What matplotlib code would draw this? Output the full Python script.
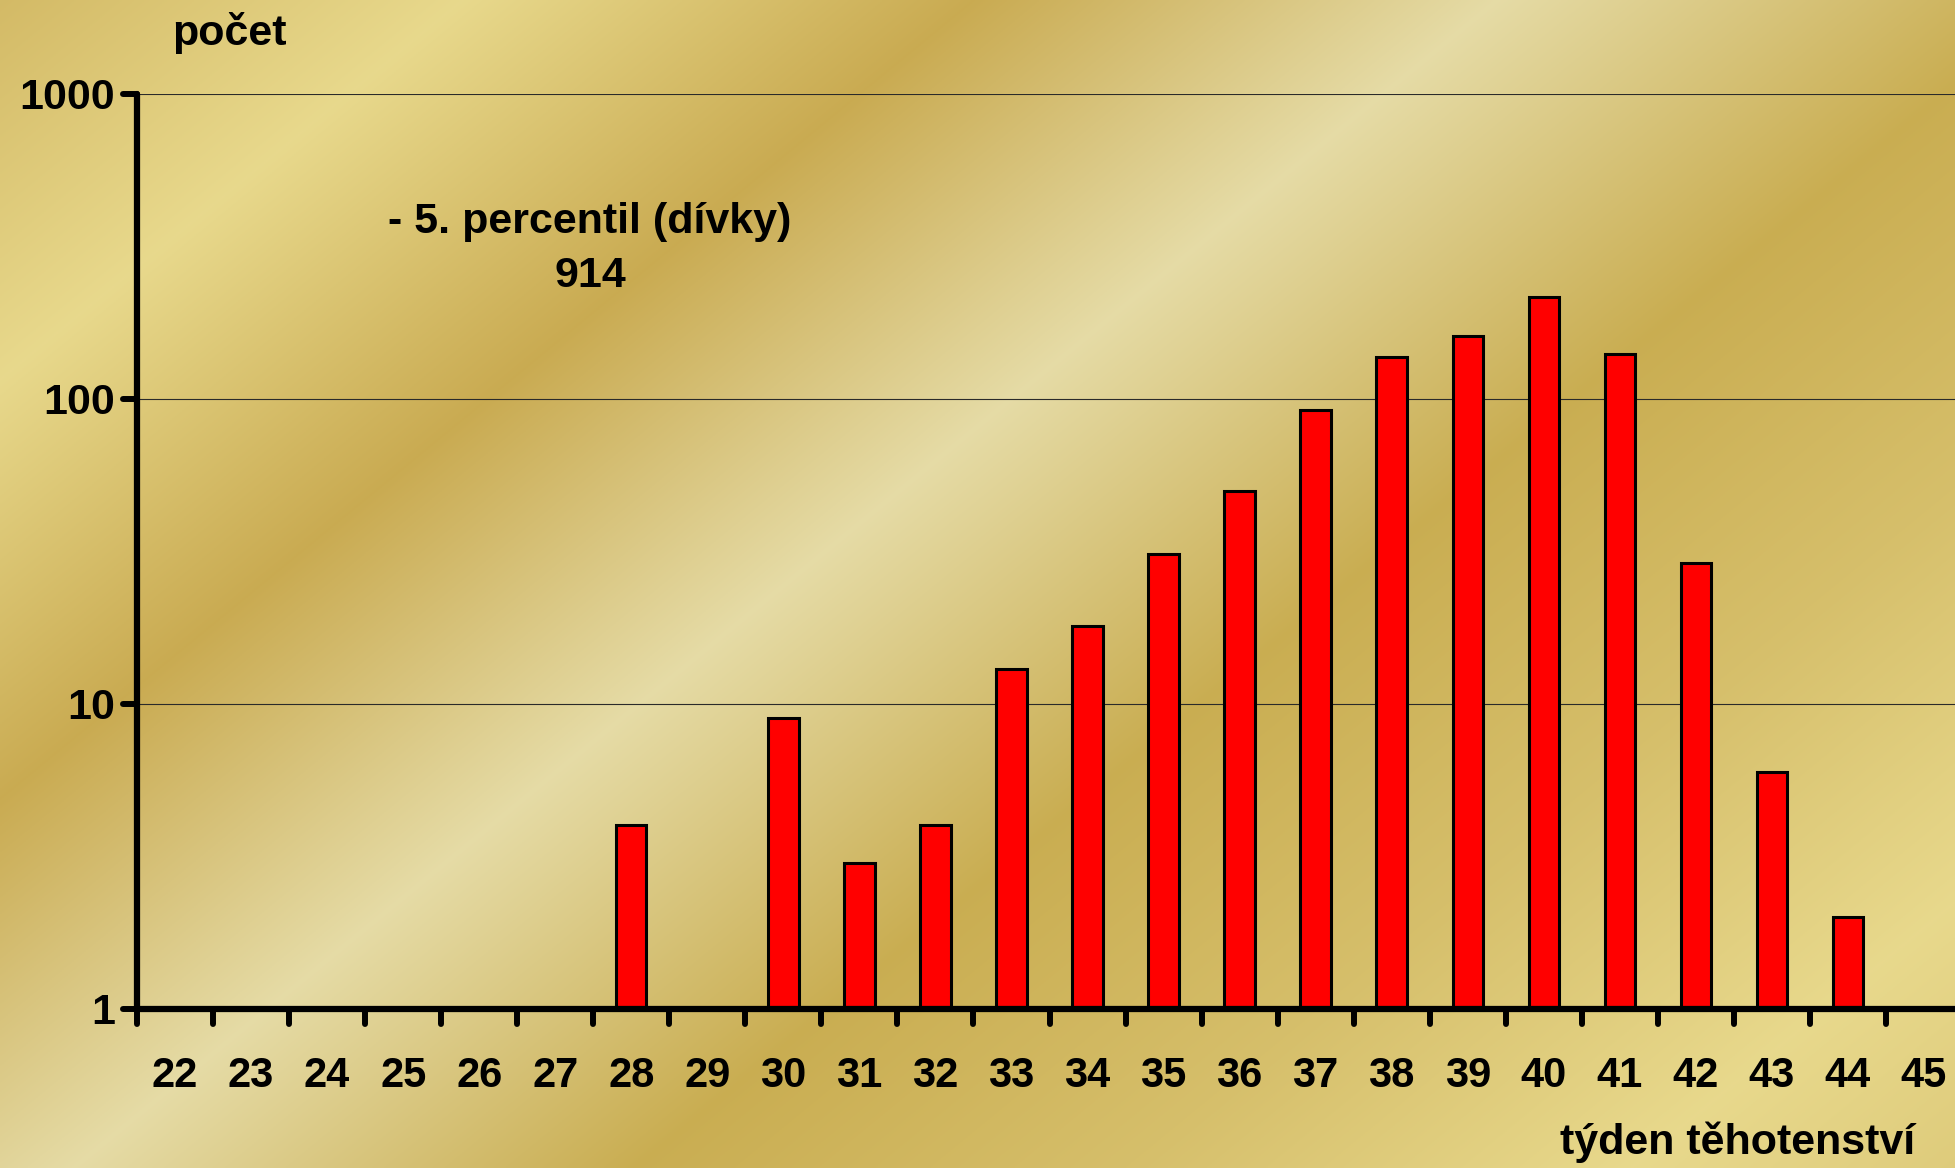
import numpy as np
import matplotlib
matplotlib.use("Agg")
import matplotlib.pyplot as plt
from matplotlib.markers import MarkerStyle, TICKDOWN, TICKLEFT

# ---- data ----
weeks = [22, 23, 24, 25, 26, 27, 28, 29, 30, 31, 32, 33,
         34, 35, 36, 37, 38, 39, 40, 41, 42, 43, 44, 45]
counts = [0, 0, 0, 0, 0, 0, 4, 0, 9, 3, 4, 13,
          18, 31, 50, 92, 137, 160, 216, 140, 29, 6, 2, 0]
ytick_vals = [1, 10, 100, 1000]
ytick_labels = ["1", "10", "100", "1000"]
ylabel_text = "počet"
xlabel_text = "týden těhotenství"
note_text = "- 5. percentil (dívky)\n914"

W, H = 1955, 1168
plt.rcParams['font.family'] = ['Liberation Sans', 'DejaVu Sans']
plt.rcParams['font.weight'] = 'bold'

fig = plt.figure(figsize=(W / 100, H / 100), dpi=100)

# ---- gold diagonal background ----
bg = fig.add_axes([0, 0, 1, 1], zorder=0)
yy, xx = np.mgrid[0:H:2, 0:W:2]
s = (xx + 1.22 * yy) / 1.2468
pts = [0, 370, 780, 1200, 1650, 2050, 2450, 2800]
cols = np.array([
    [0.83, 0.73, 0.40],
    [0.91, 0.85, 0.55],
    [0.79, 0.67, 0.32],
    [0.90, 0.86, 0.65],
    [0.79, 0.68, 0.32],
    [0.84, 0.75, 0.42],
    [0.91, 0.85, 0.55],
    [0.86, 0.78, 0.46],
])
img = np.zeros(s.shape + (3,))
for c in range(3):
    img[..., c] = np.interp(s, pts, cols[:, c])
bg.imshow(img, aspect='auto', extent=[0, 1, 0, 1], origin='upper')
bg.set_axis_off()

# ---- main axes ----
left = 137 / W
right = 1962 / W
bottom = (H - 1009) / H
top = (H - 93.5) / H
ax = fig.add_axes([left, bottom, right - left, top - bottom], zorder=1)
ax.patch.set_alpha(0)

x = np.arange(len(weeks))
vals = np.array(counts, dtype=float)
mask = vals > 0
ax.bar(x[mask], vals[mask] - 1, bottom=1, width=0.4, color='#FF0000',
       edgecolor='black', linewidth=2.2, zorder=3)

ax.set_yscale('log')
ax.set_ylim(1, 1000)
ax.set_xlim(-0.5, len(weeks) - 0.5)

ax.set_yticks(ytick_vals)
ax.set_yticklabels(ytick_labels)
ax.yaxis.set_minor_locator(matplotlib.ticker.NullLocator())
ax.tick_params(axis='y', which='major', direction='out', length=10, width=4.3,
               labelsize=31, pad=6)
for lab in ax.get_yticklabels():
    lab.set_fontweight('bold')

ax.set_xticks(np.arange(len(weeks) + 1) - 0.5)
ax.set_xticklabels([])
ax.set_xticks(x, minor=True)
ax.set_xticklabels([str(w) for w in weeks], minor=True)
ax.tick_params(axis='x', which='major', direction='out', length=11, width=4.3)
ax.tick_params(axis='x', which='minor', length=0, labelsize=30, pad=34)
for lab in ax.get_xticklabels(minor=True):
    lab.set_fontweight('bold')

ax.yaxis.grid(True, which='major', color='#2a2a2a', linewidth=0.8, zorder=1)
ax.set_axisbelow(True)

for side in ('top', 'right'):
    ax.spines[side].set_visible(False)
for side in ('left', 'bottom'):
    ax.spines[side].set_linewidth(4.5)
    ax.spines[side].set_capstyle('round')
    ax.spines[side].set_zorder(4)

# round-capped tick marks
for t in ax.xaxis.get_major_ticks():
    t.tick1line.set_marker(MarkerStyle(TICKDOWN, capstyle='round'))
for t in ax.yaxis.get_major_ticks():
    t.tick1line.set_marker(MarkerStyle(TICKLEFT, capstyle='round'))

# ---- texts ----
fig.text(229 / W, 1 - 33 / H, ylabel_text, ha='center', va='center',
         fontsize=31, fontweight='bold')
fig.text(1915 / W, 1 - 1142 / H, xlabel_text, ha='right', va='center',
         fontsize=31, fontweight='bold')
fig.text(590 / W, 1 - 249 / H, note_text, ha='center', va='center',
         fontsize=31, fontweight='bold', linespacing=1.45)

fig.savefig('out.png', dpi=100)
